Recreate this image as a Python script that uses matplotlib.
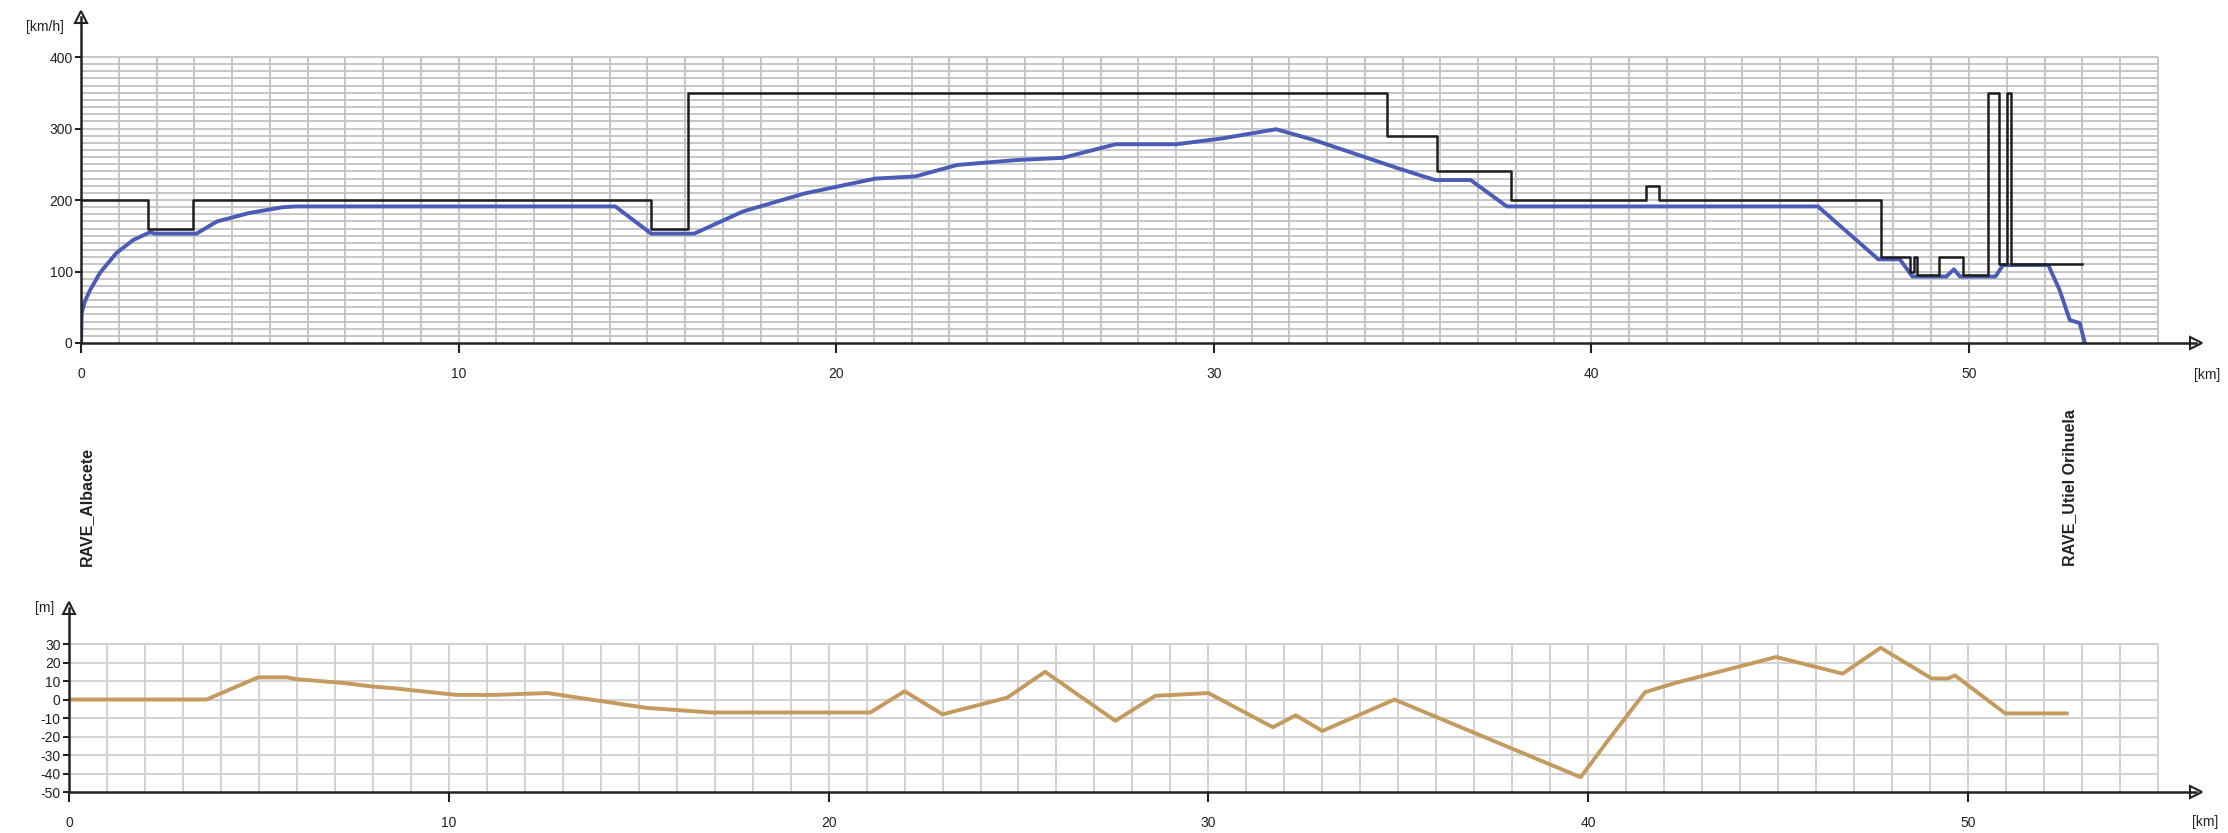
import matplotlib
matplotlib.use("Agg")
import matplotlib.pyplot as plt
import matplotlib.transforms as mtransforms
import numpy as np

plt.rcParams['font.family'] = ['Liberation Sans', 'DejaVu Sans']
plt.rcParams['axes.unicode_minus'] = False

# speed limit (steps), km -> km/h
limit_km = [0, 1.78, 2.97, 15.1, 16.07, 34.6, 35.9, 37.86, 41.45, 41.8, 47.66,
            48.44, 48.55, 48.62, 49.2, 49.85, 50.5, 50.8, 51.0, 51.1, 53.0]
limit_kmh = [200, 160, 200, 160, 350, 290, 240, 200, 220, 200, 120,
             100, 120, 95, 120, 95, 350, 110, 350, 110, 110]

# running speed profile
speed_km = [0, 0.02, 0.1, 0.24, 0.5, 0.94, 1.38, 1.83, 1.95, 3.06, 3.6, 4.47, 5.35, 5.7,
            14.15, 15.1, 16.24, 17.53, 19.15, 21.04, 22.1, 23.2, 24.8, 26.0, 27.4,
            29.0, 30.2, 31.65, 32.65, 34.9, 35.86, 36.8, 37.76, 46.0, 47.6, 48.17,
            48.5, 49.4, 49.6, 49.76, 50.7, 50.9, 52.1, 52.4, 52.67, 52.93, 53.07]
speed_kmh = [0, 42, 58, 74, 98, 126, 144, 155, 153, 153, 170, 182, 190, 191,
             191, 153, 153, 184, 209, 230, 233, 249, 256, 259, 278,
             278, 286, 299, 284, 244, 228, 228, 191, 191, 117, 117,
             93, 93, 103, 93, 93, 109, 109, 74, 32, 28, 0]

# elevation profile
elev_km = [0, 3.62, 4.98, 5.73, 6.0, 7.2, 8.0, 8.6, 10.2, 11.2, 12.6, 15.2, 16.9,
           21.1, 22.0, 23.0, 24.7, 25.7, 27.55, 28.6, 30.0, 31.7, 32.3, 33.0, 34.9,
           39.8, 40.6, 41.5, 42.3, 44.95, 46.7, 47.7, 49.04, 49.47, 49.66, 50.98, 52.6]
elev_m = [0, 0, 12, 12, 11, 9, 7, 6, 2.5, 2.5, 3.5, -4.5, -7,
          -7, 4.5, -8, 1, 15, -11.5, 2, 3.5, -15, -8.5, -17, 0,
          -42, -20, 4, 9, 23, 14, 28, 11.4, 11.4, 13, -7.5, -7.5]

stations = ["RAVE_Albacete", "RAVE_Utiel Orihuela"]
station_km = [0.15, 52.65]

W, H = 2228, 833
fig = plt.figure(figsize=(W / 100, H / 100), dpi=100)
fig.patch.set_facecolor('white')

txt = dict(fontsize=10, color='#222222')


def setup(ax, ymin, ytop):
    for s in ['top', 'right']:
        ax.spines[s].set_visible(False)
    for s in ['left', 'bottom']:
        ax.spines[s].set_linewidth(1.8)
        ax.spines[s].set_color('#222222')
    ax.set_xlim(0, 56)
    ax.set_ylim(ymin, ytop)
    ax.set_xticks(range(0, 51, 10))
    ax.tick_params(axis='x', length=7, width=1.5, pad=10, labelsize=10, colors='#222222')
    ax.tick_params(axis='y', length=4, width=1.5, pad=2, labelsize=10, colors='#222222')
    ax.plot(1, ymin, '>', transform=ax.get_yaxis_transform(), clip_on=False,
            ms=8, mfc='white', mec='#222222', mew=1.5)
    ax.plot(0, 1, '^', transform=ax.get_xaxis_transform(), clip_on=False,
            ms=8, mfc='white', mec='#222222', mew=1.5)
    ax.set_facecolor('none')


# ---- speed chart ----
ax1 = fig.add_axes([81 / W, (H - 343) / H, 56 * 37.76 / W, 326 / H])
setup(ax1, 0, 456)
ax1.set_yticks(range(0, 401, 100))
ax1.vlines(np.arange(1, 56), 0, 400, color='#c2c2c2', lw=1.3, zorder=0)
ax1.hlines(np.arange(10, 401, 10), 0, 55, color='#c2c2c2', lw=1.3, zorder=0)
ax1.plot(limit_km, limit_kmh, drawstyle='steps-post', color='#1e1e1e', lw=1.8, zorder=3)
ax1.plot(speed_km, speed_kmh, color='#4a5cb6', lw=2.8, zorder=2)
fig.text(45 / W, 1 - 27 / H, '[km/h]', ha='center', va='center', **txt)
fig.text(2207 / W, 1 - 375 / H, '[km]', ha='center', va='center', **txt)

# station names
trans = mtransforms.blended_transform_factory(ax1.transData, fig.transFigure)
for name, km in zip(stations, station_km):
    ax1.text(km, 1 - 566 / H, name, rotation=90, ha='center', va='bottom',
             transform=trans, clip_on=False, fontsize=11.5, fontweight='bold', color='#222222')

# ---- elevation chart ----
ax2 = fig.add_axes([69 / W, (H - 792) / H, 56 * 37.98 / W, (792 - 608) / H])
setup(ax2, -50, 49.5)
ax2.set_yticks(range(-50, 31, 10))
ax2.vlines(np.arange(1, 56), -50, 30, color='#d2d2d2', lw=1.5, zorder=0)
ax2.hlines(np.arange(-40, 31, 10), 0, 55, color='#d2d2d2', lw=1.5, zorder=0)
ax2.plot(elev_km, elev_m, color='#c49a5e', lw=2.8, zorder=2)
fig.text(45 / W, 1 - 608 / H, '[m]', ha='center', va='center', **txt)
fig.text(2205 / W, 1 - 822 / H, '[km]', ha='center', va='center', **txt)

fig.savefig('out.png', dpi=100, facecolor='white')
